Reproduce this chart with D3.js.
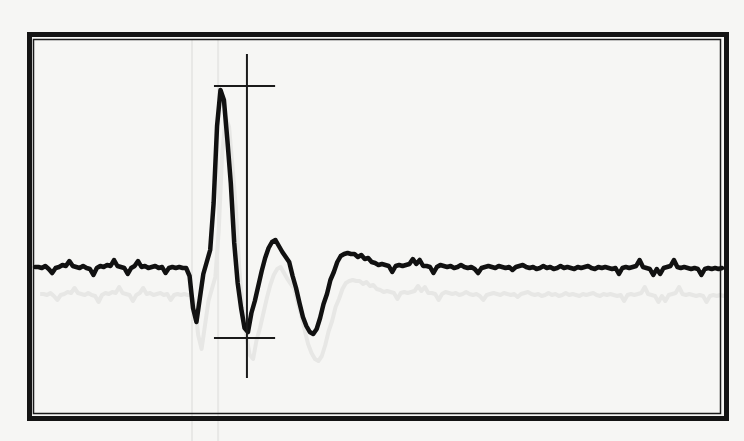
<!DOCTYPE html>
<html>
<head>
<meta charset="utf-8">
<script src="https://cdn.jsdelivr.net/npm/d3@7"></script>
<style>
  html, body { margin: 0; padding: 0; background: #f6f6f4; }
  svg { display: block; }
</style>
</head>
<body>
<div id="chart"></div>
<script>
// sample step in ms, trace starts at 0 ms
const step = 0.1;

// recorded amplitude (arbitrary units), one value per sample
const amps = [
  1, 1, 0, 2, -1, -5, 0, 1, 3, 2,
  7, 2, 1, 0, 2, 0, -1, -7, 0, 2,
  1, 3, 2, 8, 2, 1, 0, -6, 0, 2,
  7, 1, 2, 0, 1, 2, 0, 1, -5, 0,
  1, 0, 1, 0, 0, -8, -40, -54, -30, -6,
  6, 18, 65, 142, 178, 168, 128, 85, 25, -15,
  -40, -60, -64, -45, -33, -18, -3, 10, 20, 26,
  28, 22, 16, 11, 6, -8, -20, -35, -49, -58,
  -64, -66, -61, -50, -36, -26, -12, -4, 6, 12,
  14, 15, 14, 14, 11, 13, 9, 10, 6, 5,
  3, 4, 3, 2, -4, 2, 3, 2, 3, 4,
  9, 4, 8, 2, 2, 1, -5, 1, 3, 2,
  1, 2, 0, 1, 3, 1, 0, 1, -1, -5,
  0, 1, 2, 1, 0, 2, 1, 0, 1, -2,
  1, 2, 3, 1, 0, 1, -1, 0, 2, 0,
  1, -1, 0, 2, 0, 1, 0, -1, 1, 0,
  1, 2, 0, -1, 1, 0, 1, 0, -1, 0,
  -6, 0, 1, 0, 1, 2, 8, 1, 0, -1,
  -7, -1, -6, 0, 1, 2, 8, 1, 0, 1,
  0, -1, 0, -1, -7, -1, 0, -1, 0, -1,
  0
];

// measurement cursors: vertical marker time, peak and trough levels
const cursorTime = 6.17;
const cursorLevels = [182, -70];
const cursorSpan = [5.21, 6.99];
const cursorExtent = [214, -110];

// faint marks bleeding through from the back of the page
const ghostShift = { t: 0.15, a: -27 };
const ghostLines = [4.57, 5.33];

const W = 744, H = 441;
const svg = d3.select('#chart').append('svg')
  .attr('width', W).attr('height', H);

svg.append('rect').attr('width', W).attr('height', H).attr('fill', '#f6f6f4');

const x = d3.scaleLinear().domain([0, 20]).range([35, 722]);
const y = d3.scaleLinear().domain([-100, 200]).range([368, 68]);

const data = amps.map((a, i) => ({ t: i * step, a: a }));

const line = d3.line()
  .x(d => x(d.t)).y(d => y(d.a))
  .curve(d3.curveLinear);

// Bleed-through
svg.selectAll('line.ghost').data(ghostLines).enter().append('line')
  .attr('class', 'ghost')
  .attr('x1', d => x(d)).attr('x2', d => x(d))
  .attr('y1', 40).attr('y2', H)
  .attr('stroke', '#e8e8e6').attr('stroke-width', 2);

svg.append('path').datum(data.map(d => ({ t: d.t + ghostShift.t, a: d.a + ghostShift.a })))
  .attr('fill', 'none').attr('stroke', '#e7e7e5')
  .attr('stroke-width', 4).attr('stroke-linejoin', 'round')
  .attr('d', line);

// Frame
svg.append('rect')
  .attr('x', 29.5).attr('y', 34.5).attr('width', 697).attr('height', 384)
  .attr('fill', 'none').attr('stroke', '#141414').attr('stroke-width', 5);
svg.append('rect')
  .attr('x', 33.5).attr('y', 39.5).attr('width', 687).attr('height', 374)
  .attr('fill', 'none').attr('stroke', '#1a1a1a').attr('stroke-width', 1.5);

// Trace
svg.append('path').datum(data)
  .attr('fill', 'none').attr('stroke', '#111')
  .attr('stroke-width', 4.5).attr('stroke-linejoin', 'round')
  .attr('stroke-linecap', 'round')
  .attr('d', line);

// Cursors
svg.append('line')
  .attr('x1', x(cursorTime)).attr('x2', x(cursorTime))
  .attr('y1', y(cursorExtent[0])).attr('y2', y(cursorExtent[1]))
  .attr('stroke', '#1a1a1a').attr('stroke-width', 2);

svg.selectAll('line.level').data(cursorLevels).enter().append('line')
  .attr('class', 'level')
  .attr('x1', x(cursorSpan[0])).attr('x2', x(cursorSpan[1]))
  .attr('y1', d => y(d)).attr('y2', d => y(d))
  .attr('stroke', '#1a1a1a').attr('stroke-width', 2);
</script>
</body>
</html>
